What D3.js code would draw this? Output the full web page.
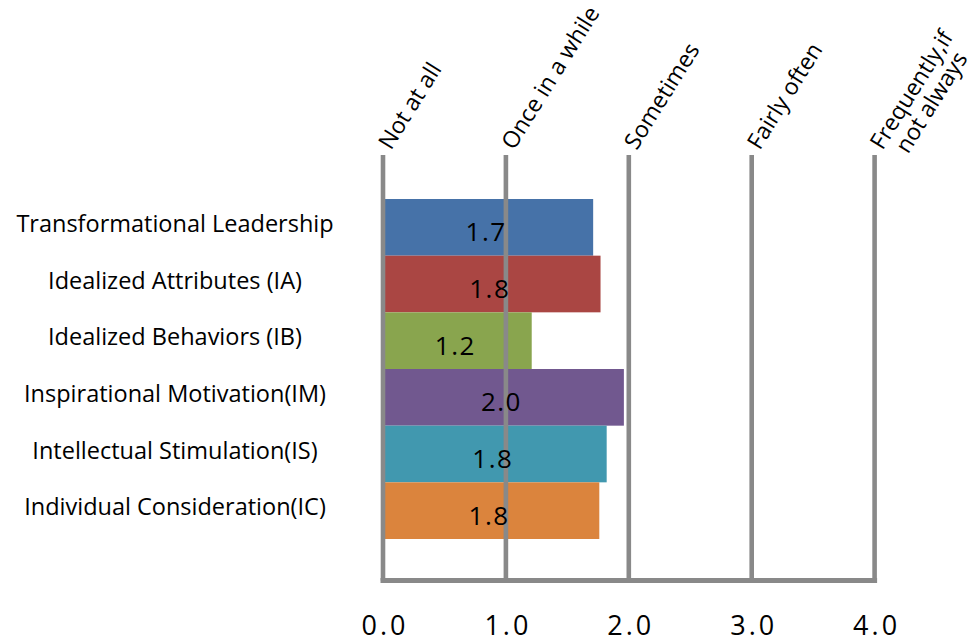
<!DOCTYPE html>
<html>
<head>
<meta charset="utf-8">
<script src="https://cdn.jsdelivr.net/npm/d3@7"></script>
<style>
  html, body { margin: 0; padding: 0; background: #ffffff; }
  svg { display: block; font-family: "Open Sans", "Noto Sans", sans-serif; }
</style>
</head>
<body>
<svg id="chart" width="974" height="642"></svg>
<script>
// Leadership dimensions and their mean frequency scores (0 = not at all, 4 = frequently)
const categories = [
  "Transformational Leadership",
  "Idealized Attributes (IA)",
  "Idealized Behaviors (IB)",
  "Inspirational Motivation(IM)",
  "Intellectual Stimulation(IS)",
  "Individual Consideration(IC)"
];
const values = [1.71, 1.77, 1.21, 1.96, 1.82, 1.76];
const barColors = ["#4672A8", "#AA4643", "#89A54E", "#71588F", "#4198AF", "#DB843D"];
const tickValues = [0, 1, 2, 3, 4];
const frequencyLabels = [
  ["Not at all"],
  ["Once in a while"],
  ["Sometimes"],
  ["Fairly often"],
  ["Frequently,if", "not always"]
];

const svg = d3.select("#chart");
const gridColor = "#898989";

const x = d3.scaleLinear().domain([0, 4]).range([383, 874.6]);
const y = d3.scaleBand().domain(categories).range([199, 539]).paddingInner(0).paddingOuter(0);
const plotTop = 155, plotBottom = 580.5;

// bars
svg.append("g").selectAll("rect")
  .data(values)
  .join("rect")
  .attr("x", x(0))
  .attr("y", (d, i) => y(categories[i]))
  .attr("width", d => x(d) - x(0))
  .attr("height", y.bandwidth())
  .attr("fill", (d, i) => barColors[i]);

// vertical gridlines at each scale point
svg.append("g").selectAll("line")
  .data(tickValues)
  .join("line")
  .attr("x1", d => x(d)).attr("x2", d => x(d))
  .attr("y1", plotTop).attr("y2", plotBottom)
  .attr("stroke", gridColor)
  .attr("stroke-width", 4.6);

// bottom axis line
svg.append("line")
  .attr("x1", x(0)).attr("x2", x(4))
  .attr("y1", plotBottom).attr("y2", plotBottom)
  .attr("stroke", gridColor)
  .attr("stroke-width", 5)
  .attr("stroke-linecap", "square");

// numeric tick labels under the axis
const axis = d3.axisBottom(x).tickValues(tickValues).tickFormat(d3.format(".1f")).tickSize(0).tickPadding(0);
const axisG = svg.append("g").call(axis);
axisG.select(".domain").remove();
axisG.selectAll("text")
  .attr("y", 635)
  .attr("dy", null)
  .attr("fill", "#000")
  .style("font-family", "\"Open Sans\", sans-serif")
  .style("font-size", "27px")
  .style("letter-spacing", "3px")
  .attr("dx", "1.5px");

// category labels on the left
svg.append("g").selectAll("text")
  .data(categories)
  .join("text")
  .attr("x", 175)
  .attr("y", d => y(d) + y.bandwidth() / 2 + 4.5)
  .attr("text-anchor", "middle")
  .attr("fill", "#000")
  .style("font-size", "23.5px")
  .text(d => d);

// value labels inside the bars
const fmt = d3.format(".1f");
svg.append("g").selectAll("text")
  .data(values)
  .join("text")
  .attr("x", d => (x(0) + x(d)) / 2 - 2)
  .attr("y", (d, i) => y(categories[i]) + y.bandwidth() / 2 + 14)
  .attr("text-anchor", "middle")
  .attr("fill", "#000")
  .style("font-size", "26px")
  .style("letter-spacing", "1.5px")
  .text(d => fmt(d));

// slanted frequency labels above the gridlines
const angle = -58;
const head = svg.append("g").selectAll("text")
  .data(tickValues)
  .join("text")
  .attr("transform", d => `translate(${x(d) + 8},151) rotate(${angle})`)
  .attr("fill", "#000")
  .style("font-size", "23px");

head.each(function(d, i) {
  const t = d3.select(this);
  const lines = frequencyLabels[i];
  const spans = lines.map((ln, k) => t.append("tspan").attr("x", 0).attr("dy", k === 0 ? 0 : "1.02em").text(ln));
  if (spans.length > 1) {
    const w0 = spans[0].node().getComputedTextLength();
    spans.slice(1).forEach(s => {
      const w = s.node().getComputedTextLength();
      s.attr("x", (w0 - w) / 2);
    });
  }
});
</script>
</body>
</html>
